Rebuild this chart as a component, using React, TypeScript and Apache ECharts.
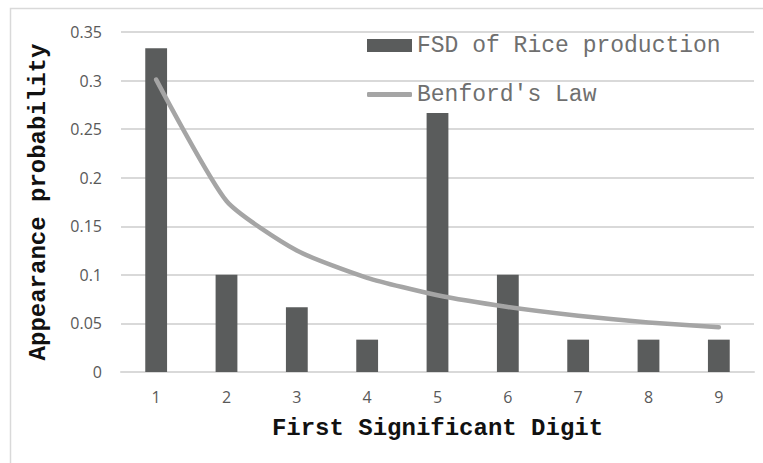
import React, { useEffect, useRef } from "react";
import * as echarts from "echarts";

const digits = ["1", "2", "3", "4", "5", "6", "7", "8", "9"];
const riceFsd = [0.3333, 0.1, 0.0667, 0.0333, 0.2667, 0.1, 0.0333, 0.0333, 0.0333];
const benford = [0.301, 0.176, 0.125, 0.097, 0.079, 0.067, 0.058, 0.051, 0.046];
const barName = "FSD of Rice production";
const lineName = "Benford's Law";

export default function App() {
  const ref = useRef<HTMLDivElement>(null);
  useEffect(() => {
    if (!ref.current) return;
    const chart = echarts.init(ref.current, null, { renderer: "svg" });
    const mono = "'Liberation Mono', 'Courier New', monospace";
    const sans = "'Open Sans', 'Noto Sans', sans-serif";
    chart.setOption({
      animation: false,
      backgroundColor: "#ffffff",
      graphic: [
        {
          type: "rect",
          shape: { x: 10.5, y: 8.5, width: 800, height: 500 },
          style: { fill: "none", stroke: "#d9d9d9", lineWidth: 1.5 },
          silent: true,
          z: -10,
        },
      ],
      grid: { left: 121, right: 9, top: 32, bottom: 91 },
      legend: [
        {
          data: [{ name: barName, icon: "rect" }],
          left: 367,
          top: 34,
          padding: 0,
          itemWidth: 45,
          itemHeight: 13,
          itemGap: 0,
          textStyle: { fontFamily: mono, fontSize: 23, color: "#6f6f6f" },
        },
        {
          data: [{ name: lineName, icon: "roundRect" }],
          left: 367,
          top: 83,
          padding: 0,
          itemWidth: 45,
          itemHeight: 5,
          itemGap: 0,
          textStyle: { fontFamily: mono, fontSize: 23, color: "#6f6f6f" },
        },
      ],
      xAxis: {
        type: "category",
        data: digits,
        name: "First Significant Digit",
        nameLocation: "middle",
        nameGap: 44,
        nameTextStyle: { fontFamily: mono, fontSize: 24, fontWeight: "bold", color: "#111111" },
        axisLine: { lineStyle: { color: "#d9d9d9", width: 2 } },
        axisTick: { show: false },
        axisLabel: { fontFamily: sans, fontSize: 16, color: "#595959", margin: 17 },
      },
      yAxis: {
        type: "value",
        min: 0,
        max: 0.35,
        interval: 0.05,
        name: "Appearance probability",
        nameLocation: "middle",
        nameGap: 71,
        nameRotate: 90,
        nameTextStyle: { fontFamily: mono, fontSize: 24, fontWeight: "bold", color: "#111111" },
        axisLine: { show: false },
        axisTick: { show: false },
        splitLine: { lineStyle: { color: "#d9d9d9", width: 2 } },
        axisLabel: {
          fontFamily: sans,
          fontSize: 16,
          color: "#595959",
          margin: 19,
          formatter: (v: number) => String(Math.round(v * 100) / 100),
        },
      },
      series: [
        {
          name: barName,
          type: "bar",
          data: riceFsd,
          barWidth: "31%",
          itemStyle: { color: "#5a5c5c" },
        },
        {
          name: lineName,
          type: "line",
          data: benford,
          symbol: "none",
          lineStyle: { color: "#a5a5a5", width: 4.5, cap: "round", join: "round" },
          itemStyle: { color: "#a5a5a5" },
          smooth: 0.2,
        },
      ],
    });
    return () => chart.dispose();
  }, []);
  return (
    <div
      ref={ref}
      style={{ position: "fixed", left: 0, top: 0, width: 763, height: 463 }}
    />
  );
}
